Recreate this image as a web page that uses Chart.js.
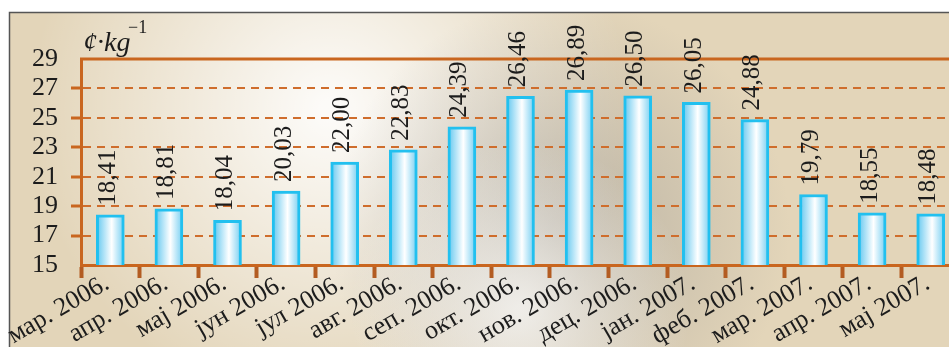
<!DOCTYPE html>
<html>
<head>
<meta charset="utf-8">
<script src="https://cdn.jsdelivr.net/npm/chart.js@4.4.1/dist/chart.umd.min.js"></script>
<style>
html, body { margin: 0; padding: 0; overflow: hidden; background: #fff; }
#wrap { position: relative; width: 949px; height: 347px; overflow: hidden; }
canvas { position: absolute; left: 0; top: 0; }
</style>
</head>
<body>
<div id="wrap"><canvas id="priceChart" width="962" height="347"></canvas></div>
<script>
// price per month, ¢/kg
const months = ['мар. 2006.', 'апр. 2006.', 'мај 2006.', 'јун 2006.', 'јул 2006.', 'авг. 2006.', 'сеп. 2006.',
  'окт. 2006.', 'нов. 2006.', 'дец. 2006.', 'јан. 2007.', 'феб. 2007.', 'мар. 2007.', 'апр. 2007.', 'мај 2007.'];
const prices = [18.41, 18.81, 18.04, 20.03, 22.00, 22.83, 24.39, 26.46, 26.89, 26.50, 26.05, 24.88, 19.79, 18.55, 18.48];
const yTicks = [15, 17, 19, 21, 23, 25, 27, 29];

const ORANGE = '#c9661f';
const SERIF = '"Liberation Serif", "Times New Roman", serif';

// Background panel
const backdrop = {
  id: 'backdrop',
  beforeDraw(chart) {
    const ctx = chart.ctx;
    const w = chart.width, h = chart.height;
    ctx.save();
    ctx.fillStyle = '#fff';
    ctx.fillRect(0, 0, w, h);
    ctx.fillStyle = '#e3d5b9';
    ctx.fillRect(9, 12, w, h);

    let g = ctx.createRadialGradient(330, 110, 10, 330, 110, 300);
    g.addColorStop(0, 'rgba(255,255,255,0.9)');
    g.addColorStop(1, 'rgba(255,255,255,0)');
    ctx.fillStyle = g;
    ctx.fillRect(9, 12, w, h);

    g = ctx.createRadialGradient(560, 230, 10, 560, 230, 230);
    g.addColorStop(0, 'rgba(140,140,140,0.45)');
    g.addColorStop(1, 'rgba(140,140,140,0)');
    ctx.fillStyle = g;
    ctx.fillRect(9, 12, w, h);

    g = ctx.createRadialGradient(520, 310, 5, 520, 310, 170);
    g.addColorStop(0, 'rgba(250,250,250,0.75)');
    g.addColorStop(1, 'rgba(250,250,250,0)');
    ctx.fillStyle = g;
    ctx.fillRect(9, 12, w, h);

    ctx.strokeStyle = '#555';
    ctx.lineWidth = 1.5;
    ctx.beginPath();
    ctx.moveTo(9.5, h);
    ctx.lineTo(9.5, 12.5);
    ctx.lineTo(w, 12.5);
    ctx.stroke();
    ctx.restore();
  }
};

// solid line at the top value
const topLine = {
  id: 'topLine',
  beforeDatasetsDraw(chart) {
    const {ctx, chartArea, scales} = chart;
    const y = scales.y.getPixelForValue(29);
    ctx.save();
    ctx.strokeStyle = ORANGE;
    ctx.lineWidth = 3;
    ctx.beginPath();
    ctx.moveTo(chartArea.left - 1, y);
    ctx.lineTo(chartArea.right, y);
    ctx.stroke();
    ctx.restore();
  }
};

const valueLabels = {
  id: 'valueLabels',
  afterDatasetsDraw(chart) {
    const ctx = chart.ctx;
    const meta = chart.getDatasetMeta(0);
    ctx.save();
    ctx.font = '25px ' + SERIF;
    ctx.fillStyle = '#1c1c1c';
    ctx.textAlign = 'left';
    ctx.textBaseline = 'middle';
    meta.data.forEach((bar, i) => {
      ctx.save();
      ctx.translate(bar.x - 2, bar.y - 9);
      ctx.rotate(-Math.PI / 2);
      ctx.fillText(prices[i].toFixed(2).replace('.', ','), 0, 0);
      ctx.restore();
    });
    ctx.restore();
  }
};

const unitTitle = {
  id: 'unitTitle',
  afterDraw(chart) {
    const ctx = chart.ctx;
    ctx.save();
    ctx.fillStyle = '#1c1c1c';
    ctx.textBaseline = 'alphabetic';
    ctx.font = 'italic 28px ' + SERIF;
    ctx.fillText('¢·kg', 83, 51);
    ctx.font = '18px ' + SERIF;
    ctx.fillText('−1', 128, 33);
    ctx.restore();
  }
};

function barFill(c) {
  const xs = c.chart.scales.x;
  if (!xs || c.dataIndex === undefined) return '#bfe9fa';
  const cx = xs.getPixelForValue(c.dataIndex);
  if (!isFinite(cx)) return '#bfe9fa';
  const g = c.chart.ctx.createLinearGradient(cx - 14, 0, cx + 14, 0);
  g.addColorStop(0, '#5fc6ef');
  g.addColorStop(0.55, '#ffffff');
  g.addColorStop(1, '#72cdf1');
  return g;
}

new Chart(document.getElementById('priceChart'), {
  type: 'bar',
  data: {
    labels: months,
    datasets: [{
      data: prices,
      backgroundColor: barFill,
      borderColor: '#22c0ef',
      borderWidth: 3,
      barThickness: 28
    }]
  },
  options: {
    responsive: false,
    animation: false,
    layout: { padding: { left: 0, right: 2, top: 59, bottom: 0 } },
    plugins: { legend: { display: false }, tooltip: { enabled: false } },
    scales: {
      x: {
        offset: true,
        border: { color: ORANGE, width: 3 },
        grid: { drawOnChartArea: false, tickLength: 13, tickWidth: 4, tickColor: '#b35c22', offset: true },
        ticks: {
          color: '#1c1c1c',
          font: { family: SERIF, size: 26 },
          minRotation: 30, maxRotation: 30,
          autoSkip: false,
          labelOffset: -3,
          padding: -10
        },
        afterFit(scale) { scale.height = 82; }
      },
      y: {
        min: 15, max: 29,
        afterBuildTicks(scale) { scale.ticks = yTicks.map(v => ({ value: v })); },
        border: { color: ORANGE, width: 3, dash: [8, 6] },
        grid: {
          color: c => (c.tick && (c.tick.value === 15 || c.tick.value === 29)) ? 'rgba(0,0,0,0)' : '#cf6d2c',
          lineWidth: 2,
          tickLength: 10,
          tickWidth: 3,
          tickBorderDash: [],
          tickColor: c => (c.tick && (c.tick.value === 15 || c.tick.value === 29)) ? 'rgba(0,0,0,0)' : ORANGE
        },
        ticks: {
          color: '#1c1c1c',
          font: { family: SERIF, size: 26 },
          autoSkip: false,
          padding: 13
        },
        afterFit(scale) { scale.width = 81; }
      }
    }
  },
  plugins: [backdrop, topLine, valueLabels, unitTitle]
});
</script>
</body>
</html>
